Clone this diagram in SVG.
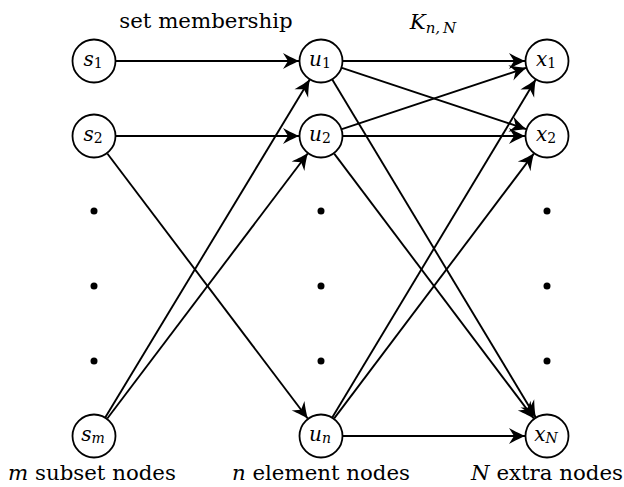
<svg xmlns="http://www.w3.org/2000/svg" width="624" height="487" viewBox="0 0 624 487">
<style>
.node circle{fill:#fff;stroke:#000;stroke-width:1.8}
.lbl{font-family:'DejaVu Serif',serif;font-style:italic;font-size:20px;text-anchor:middle}
.sub{font-size:14px;font-style:normal}
.subi{font-size:14px}
.edge{stroke:#000;stroke-width:1.9;fill:none;marker-end:url(#arr)}
.cap{font-family:'DejaVu Serif',serif;font-size:21.3px;text-anchor:middle}
.dot{fill:#000}
</style>
<defs>
<marker id="arr" viewBox="-17 -9 19 18" refX="0" refY="0" markerWidth="19" markerHeight="18" markerUnits="userSpaceOnUse" orient="auto">
<path d="M0.5,0 C-3,-1.2 -10,-4.5 -16,-8 L-11,0 L-16,8 C-10,4.5 -3,1.2 0.5,0 Z" fill="#000"/>
</marker>
</defs>
<g id="connectors">
<line class="edge" x1="116" y1="61" x2="299" y2="61"/>
<line class="edge" x1="116" y1="136" x2="299" y2="136"/>
<line class="edge" x1="107.3" y1="153.5" x2="307.7" y2="418.5"/>
<line class="edge" x1="105.4" y1="417.2" x2="309.6" y2="79.8"/>
<line class="edge" x1="107.3" y1="418.5" x2="307.7" y2="153.5"/>
<line class="edge" x1="343" y1="61" x2="525" y2="61"/>
<line class="edge" x1="341.9" y1="67.9" x2="526.1" y2="129.1"/>
<line class="edge" x1="332.4" y1="79.8" x2="535.6" y2="417.2"/>
<line class="edge" x1="341.9" y1="129.1" x2="526.1" y2="67.9"/>
<line class="edge" x1="343" y1="136" x2="525" y2="136"/>
<line class="edge" x1="334.2" y1="153.6" x2="533.8" y2="418.4"/>
<line class="edge" x1="332.4" y1="417.2" x2="535.6" y2="79.8"/>
<line class="edge" x1="334.2" y1="418.4" x2="533.8" y2="153.6"/>
<line class="edge" x1="343" y1="436" x2="525" y2="436"/>
</g>
<g id="s1" class="node"><circle cx="94" cy="61" r="21.5"/><text class="lbl" x="93" y="66">s<tspan class="sub" dy="2">1</tspan></text></g>
<g id="s2" class="node"><circle cx="94" cy="136" r="21.5"/><text class="lbl" x="93" y="141">s<tspan class="sub" dy="2">2</tspan></text></g>
<g id="sm" class="node"><circle cx="94" cy="436" r="21.5"/><text class="lbl" x="93" y="441">s<tspan class="subi" dy="2">m</tspan></text></g>
<g id="u1" class="node"><circle cx="321" cy="61" r="21.5"/><text class="lbl" x="320" y="66">u<tspan class="sub" dy="2">1</tspan></text></g>
<g id="u2" class="node"><circle cx="321" cy="136" r="21.5"/><text class="lbl" x="320" y="141">u<tspan class="sub" dy="2">2</tspan></text></g>
<g id="un" class="node"><circle cx="321" cy="436" r="21.5"/><text class="lbl" x="320" y="441">u<tspan class="subi" dy="2">n</tspan></text></g>
<g id="x1" class="node"><circle cx="547" cy="61" r="21.5"/><text class="lbl" x="546" y="66">x<tspan class="sub" dy="2">1</tspan></text></g>
<g id="x2" class="node"><circle cx="547" cy="136" r="21.5"/><text class="lbl" x="546" y="141">x<tspan class="sub" dy="2">2</tspan></text></g>
<g id="xN" class="node"><circle cx="547" cy="436" r="21.5"/><text class="lbl" x="546" y="441">x<tspan class="subi" dy="2">N</tspan></text></g>
<g id="dots">
<circle class="dot" cx="94" cy="211" r="3.5"/><circle class="dot" cx="94" cy="286" r="3.5"/><circle class="dot" cx="94" cy="361" r="3.5"/>
<circle class="dot" cx="321" cy="211" r="3.5"/><circle class="dot" cx="321" cy="286" r="3.5"/><circle class="dot" cx="321" cy="361" r="3.5"/>
<circle class="dot" cx="547" cy="211" r="3.5"/><circle class="dot" cx="547" cy="286" r="3.5"/><circle class="dot" cx="547" cy="361" r="3.5"/>
</g>
<g id="labels">
<text class="cap" x="206" y="28">set membership</text>
<text class="cap" x="433" y="29" font-style="italic">K<tspan font-size="15" dy="4">n,</tspan><tspan font-size="15" dx="3">N</tspan></text>
<text class="cap" x="92" y="480"><tspan font-style="italic">m</tspan> subset nodes</text>
<text class="cap" x="321" y="480"><tspan font-style="italic">n</tspan> element nodes</text>
<text class="cap" x="547" y="480"><tspan font-style="italic">N</tspan> extra nodes</text>
</g>
</svg>
